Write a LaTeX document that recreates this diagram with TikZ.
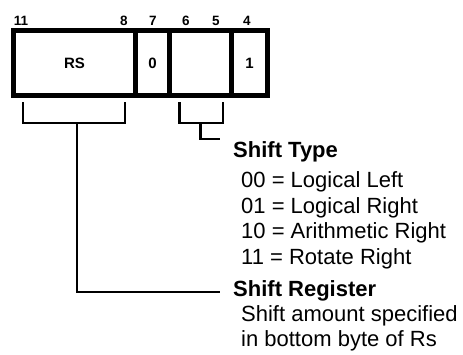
\documentclass[tikz,border=0pt]{standalone}
\usepackage{fontspec}
\setmainfont{Liberation Sans}
\begin{document}
\begin{tikzpicture}[x=1pt,y=-1pt,
  cell/.style={draw, line width=5.5pt, minimum height=65pt, inner sep=0pt, font=\fontsize{15}{17}\selectfont\bfseries},
  bitnum/.style={anchor=base, inner sep=0pt, font=\fontsize{13.5}{15}\selectfont\bfseries},
  head/.style={anchor=base west, inner sep=0pt, font=\fontsize{22}{26}\selectfont\bfseries},
  item/.style={anchor=base west, inner sep=0pt, font=\fontsize{22}{26}\selectfont},
  bracket/.style={line width=2.2pt}]
\useasboundingbox (0,0) rectangle (463,354);
% register cells
\node[cell, minimum width=122pt] (rs) at (74.5,63) {RS};
\node[cell, minimum width=34pt] (zero) at (152.5,63) {0};
\node[cell, minimum width=62pt] (st) at (200.5,63) {};
\node[cell, minimum width=36pt] (one) at (249.5,63) {1};
% bit numbers
\node[bitnum] (b11) at (21,25) {11};
\node[bitnum] (b8) at (124,25) {8};
\node[bitnum] (b7) at (153,25) {7};
\node[bitnum] (b6) at (186,25) {6};
\node[bitnum] (b5) at (216,25) {5};
\node[bitnum] (b4) at (247,25) {4};
% bracket coordinates
\coordinate (la) at (23,102);
\coordinate (lb) at (23,123);
\coordinate (lc) at (125,123);
\coordinate (ld) at (125,102);
\coordinate (lm) at (77,123);
\coordinate (lk) at (77,292);
\coordinate (le) at (220,292);
\coordinate (ra) at (179.5,102);
\coordinate (rb) at (179.5,123);
\coordinate (rc) at (223,123);
\coordinate (rd) at (223,102);
\coordinate (rm) at (200.5,123);
\coordinate (rk) at (200.5,139);
\coordinate (re) at (220,139);
\draw[bracket] (la) -- (lb) -- (lc) -- (ld);
\draw[bracket] (lm) -- (lk) -- (le);
\draw[bracket] (ra) -- (rb) -- (rc) -- (rd);
\draw[bracket] (rm) -- (rk) -- (re);
% texts
\node[head] (stype) at (233,157) {Shift Type};
\node[item] (t00) at (241,187) {00 = Logical Left};
\node[item] (t01) at (241,213) {01 = Logical Right};
\node[item] (t10) at (241,238) {10 = Arithmetic Right};
\node[item] (t11) at (241,264) {11 = Rotate Right};
\node[head] (sreg) at (233,296) {Shift Register};
\node[item] (sa1) at (241,321) {Shift amount specified};
\node[item] (sa2) at (241,346) {in bottom byte of Rs};
\end{tikzpicture}
\end{document}
